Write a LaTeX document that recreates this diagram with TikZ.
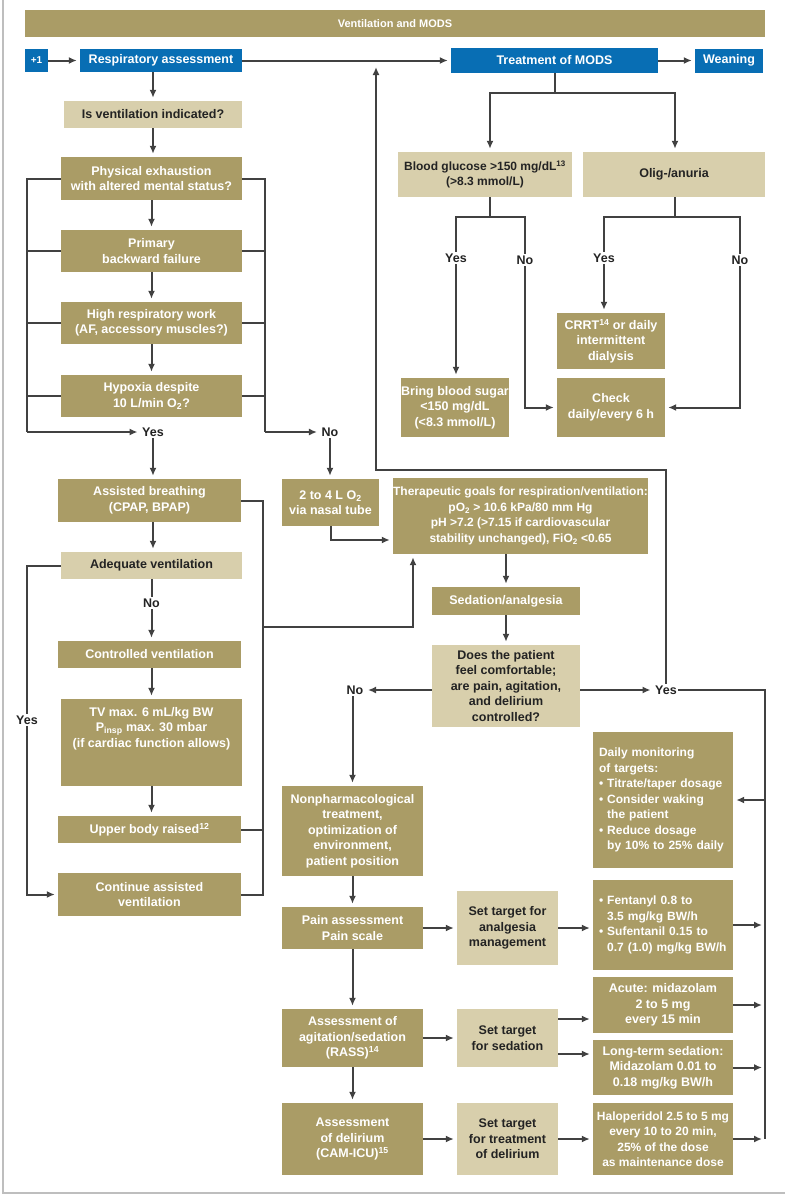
\documentclass[tikz,border=0pt]{standalone}
\usepackage{fontspec}
\setmainfont{Liberation Sans}
\usetikzlibrary{arrows.meta}
\definecolor{gold}{RGB}{170,156,102}
\definecolor{lightc}{RGB}{216,207,172}
\definecolor{bluec}{RGB}{8,110,180}
\definecolor{linec}{RGB}{65,65,65}
\definecolor{darktext}{RGB}{35,35,35}
\definecolor{framec}{RGB}{190,190,190}
\begin{document}
\begin{tikzpicture}[x=1pt,y=-1pt,
  box/.style={inner sep=0pt, align=center, font=\fontsize{12.5}{15.5}\selectfont\bfseries},
  gold/.style={box, fill=gold, text=white},
  light/.style={box, fill=lightc, text=darktext},
  bluebox/.style={box, fill=bluec, text=white},
  lbl/.style={font=\fontsize{12.5}{14}\selectfont\bfseries, text=darktext, inner sep=1.5pt, fill=white},
  conn/.style={draw=linec, line width=2pt},
  arr/.style={conn, -{Latex[length=8pt,width=7pt]}, shorten >=3pt}]
\useasboundingbox (0,0) rectangle (785,1197);
\draw[framec, line width=2pt] (3,0) -- (3,1193) -- (785,1193);

% header row
\node[gold, minimum width=740pt, minimum height=27pt, font=\fontsize{11}{13}\selectfont\bfseries] (title) at (395,23.5) {Ventilation and MODS};
\node[bluebox, minimum width=23pt, minimum height=23pt, font=\fontsize{10}{12}\selectfont\bfseries] (p1) at (36.5,60.5) {+1};
\node[bluebox, minimum width=162pt, minimum height=23pt] (resp) at (161,60.5) {Respiratory assessment};
\node[bluebox, minimum width=207pt, minimum height=25pt] (treat) at (554.5,60.5) {Treatment of MODS};
\node[bluebox, minimum width=68pt, minimum height=24pt] (wean) at (729,60.5) {Weaning};

% left column
\node[light, minimum width=178pt, minimum height=27pt] (isvent) at (153,114.5) {Is ventilation indicated?};
\node[gold, minimum width=181pt, minimum height=43pt] (phys) at (151.5,178.5) {Physical exhaustion\\with altered mental status?};
\node[gold, minimum width=181pt, minimum height=42pt] (prim) at (151.5,251) {Primary\\backward failure};
\node[gold, minimum width=181pt, minimum height=42pt] (high) at (151.5,323) {High respiratory work\\(AF, accessory muscles?)};
\node[gold, minimum width=181pt, minimum height=42pt] (hyp) at (151.5,396) {Hypoxia despite\\10 L/min O\textsubscript{2}?};
\node[lbl] (yes1) at (153,432) {Yes};
\node[lbl] (no1) at (330,432) {No};
\node[gold, minimum width=183pt, minimum height=43pt] (assist) at (149.5,500.5) {Assisted breathing\\(CPAP, BPAP)};
\node[gold, minimum width=97pt, minimum height=47pt] (o2) at (330.5,502.5) {2 to 4 L O\textsubscript{2}\\via nasal tube};
\node[light, minimum width=181pt, minimum height=27pt] (adeq) at (151.5,565.5) {Adequate ventilation};
\node[lbl] (no2) at (151.5,603) {No};
\node[lbl] (yes2) at (27,720) {Yes};
\node[gold, minimum width=183pt, minimum height=27pt] (ctrl) at (149.5,654.5) {Controlled ventilation};
\node[gold, minimum width=181pt, minimum height=87pt] (tv) at (151.5,742.5) {TV max. 6 mL/kg BW\\P\textsubscript{insp} max. 30 mbar\\(if cardiac function allows)\\\mbox{}\\\mbox{}};
\node[gold, minimum width=183pt, minimum height=27pt] (upper) at (149.5,829.5) {Upper body raised\textsuperscript{12}};
\node[gold, minimum width=183pt, minimum height=43pt] (cont) at (149.5,894.5) {Continue assisted\\ventilation};

% MODS branch
\node[light, minimum width=174pt, minimum height=45pt, font=\fontsize{12}{15.5}\selectfont\bfseries] (glu) at (485,174.5) {Blood glucose >150 mg/dL\textsuperscript{13}\\(>8.3 mmol/L)};
\node[light, minimum width=182pt, minimum height=45pt] (olig) at (674,174.5) {Olig-/anuria};
\node[lbl] (yesG) at (456,258) {Yes};
\node[lbl] (noG) at (525,260) {No};
\node[lbl] (yesO) at (604,258) {Yes};
\node[lbl] (noO) at (740,260) {No};
\node[gold, minimum width=108pt, minimum height=59pt] (bring) at (455,407.5) {Bring blood sugar\\<150 mg/dL\\(<8.3 mmol/L)};
\node[gold, minimum width=108pt, minimum height=56pt] (crrt) at (611,341) {CRRT\textsuperscript{14} or daily\\intermittent\\dialysis};
\node[gold, minimum width=108pt, minimum height=59pt] (check) at (611,407.5) {Check\\daily/every 6 h};

% center
\node[gold, minimum width=255pt, minimum height=76pt, font=\fontsize{12}{15.5}\selectfont\bfseries] (ther) at (520.5,516) {Therapeutic goals for respiration/ventilation:\\pO\textsubscript{2} > 10.6 kPa/80 mm Hg\\pH >7.2 (>7.15 if cardiovascular\\stability unchanged), FiO\textsubscript{2} <0.65};
\node[gold, minimum width=148pt, minimum height=28pt] (sed) at (506,601) {Sedation/analgesia};
\node[light, minimum width=148pt, minimum height=82pt] (does) at (506,686) {Does the patient\\feel comfortable;\\are pain, agitation,\\and delirium\\controlled?};
\node[lbl] (noD) at (355,690) {No};
\node[lbl] (yesD) at (666,690) {Yes};

\node[gold, minimum width=141pt, minimum height=90pt] (nonph) at (352.5,831) {Nonpharmacological\\treatment,\\optimization of\\environment,\\patient position};
\node[gold, minimum width=141pt, minimum height=42pt] (pain) at (352.5,928) {Pain assessment\\Pain scale};
\node[gold, minimum width=141pt, minimum height=58pt] (agit) at (352.5,1038) {Assessment of\\agitation/sedation\\(RASS)\textsuperscript{14}};
\node[gold, minimum width=141pt, minimum height=72pt] (deli) at (352.5,1139) {Assessment\\of delirium\\(CAM-ICU)\textsuperscript{15}};

\node[light, minimum width=101pt, minimum height=74pt] (stA) at (507.5,928) {Set target for\\analgesia\\management};
\node[light, minimum width=101pt, minimum height=58pt] (stS) at (507.5,1038) {Set target\\for sedation};
\node[light, minimum width=101pt, minimum height=72pt] (stD) at (507.5,1139) {Set target\\for treatment\\of delirium};

\node[gold, minimum width=140pt, minimum height=136pt, align=left, inner xsep=6pt, text width=128pt, font=\fontsize{12}{15.5}\selectfont\bfseries] (daily) at (663,800) {Daily monitoring\\of targets:\\\textbullet\ Titrate/taper dosage\\\textbullet\ Consider waking\\\phantom{\textbullet\ }the patient\\\textbullet\ Reduce dosage\\\phantom{\textbullet\ }by 10\% to 25\% daily};
\node[gold, minimum width=140pt, minimum height=90pt, align=left, inner xsep=6pt, text width=128pt, font=\fontsize{12}{15.5}\selectfont\bfseries] (fent) at (663,925) {\textbullet\ Fentanyl 0.8 to\\\phantom{\textbullet\ }3.5 mg/kg BW/h\\\textbullet\ Sufentanil 0.15 to\\\phantom{\textbullet\ }0.7 (1.0) mg/kg BW/h};
\node[gold, minimum width=140pt, minimum height=56pt] (acute) at (663,1005) {Acute: midazolam\\2 to 5 mg\\every 15 min};
\node[gold, minimum width=140pt, minimum height=55pt] (longt) at (663,1067.5) {Long-term sedation:\\Midazolam 0.01 to\\0.18 mg/kg BW/h};
\node[gold, minimum width=140pt, minimum height=72pt, font=\fontsize{12}{15.5}\selectfont\bfseries] (halo) at (663,1139) {Haloperidol 2.5 to 5 mg\\every 10 to 20 min,\\25\% of the dose\\as maintenance dose};

% coordinates
\coordinate (lb) at (27,432);
\coordinate (rb) at (265,432);
\coordinate (rb2) at (263,627);
\coordinate (t1) at (0,540);
\coordinate (t2) at (413,0);
\coordinate (tb) at (0,93);
\coordinate (ga) at (490,0);
\coordinate (oa) at (675,0);
\coordinate (gb) at (490,217);
\coordinate (ob) at (675,217);
\coordinate (loopY) at (0,470);
\coordinate (upEnd) at (376,64);
\coordinate (rl) at (765,0);
\coordinate (s1) at (0,1019);
\coordinate (s2) at (0,1054);

% header connectors
\draw[arr] (p1) -- (resp);
\draw[arr] (resp.east) -- (treat.west);
\draw[arr] (treat.east) -- (wean.west |- treat.east);
\draw[arr] (isvent.north |- resp.south) -- (isvent.north);

% left column connectors
\draw[arr] (isvent.south) -- (isvent.south |- phys.north);
\draw[arr] (phys) -- (prim);
\draw[arr] (prim) -- (high);
\draw[arr] (high) -- (hyp);
\draw[conn] (phys.west) -- (phys.west -| lb) -- (lb);
\draw[conn] (prim.west) -- (prim.west -| lb);
\draw[conn] (high.west) -- (high.west -| lb);
\draw[conn] (hyp.west) -- (hyp.west -| lb);
\draw[arr] (lb) -- (yes1.west);
\draw[conn] (phys.east) -- (phys.east -| rb) -- (rb);
\draw[conn] (prim.east) -- (prim.east -| rb);
\draw[conn] (high.east) -- (high.east -| rb);
\draw[conn] (hyp.east) -- (hyp.east -| rb);
\draw[arr] (rb) -- (no1.west);
\draw[arr] (yes1.south) -- (yes1.south |- assist.north);
\draw[arr] (no1.south) -- (no1.south |- o2.north);
\draw[arr] (o2.south) |- (ther.west |- t1);
\draw[arr] (yes1.south |- assist.south) -- (yes1.south |- adeq.north);
\draw[conn] (adeq.west) -| (yes2.north);
\draw[arr] (yes2.south) |- (cont.west);
\draw[conn] (adeq.south) -- (no2.north);
\draw[arr] (no2.south) -- (no2.south |- ctrl.north);
\draw[arr] (no2.south |- ctrl.south) -- (no2.south |- tv.north);
\draw[arr] (no2.south |- tv.south) -- (no2.south |- upper.north);
\draw[conn] (assist.east) -| (rb2 |- cont.east) -- (cont.east);
\draw[conn] (upper.east) -- (upper.east -| rb2);
\draw[arr] (rb2) -| (t2 |- ther.south);

% MODS connectors
\draw[conn] (treat.south) -- (treat.south |- tb);
\draw[arr] (treat.south |- tb) -| (ga |- glu.north);
\draw[arr] (treat.south |- tb) -| (oa |- olig.north);
\draw[conn] (ga |- glu.south) -- (gb);
\draw[conn] (gb) -| (yesG.north);
\draw[conn] (gb) -| (noG.north);
\draw[arr] (yesG.south) -- (yesG.south |- bring.north);
\draw[arr] (noG.south) |- (check.west);
\draw[conn] (oa |- olig.south) -- (ob);
\draw[conn] (ob) -| (yesO.north);
\draw[conn] (ob) -| (noO.north);
\draw[arr] (yesO.south) -- (yesO.south |- crrt.north);
\draw[arr] (noO.south) |- (check.east);

% center connectors
\draw[arr] (sed.north |- ther.south) -- (sed.north);
\draw[arr] (sed) -- (does);
\draw[arr] (does.west |- noD) -- (noD.east);
\draw[arr] (does.east |- yesD) -- (yesD.west);
\draw[arr] (yesD.north) |- (upEnd |- loopY) -- (upEnd);
\draw[conn] (yesD.east) -- (rl |- yesD.east) -- (rl |- halo.east);
\draw[arr] (rl |- daily.east) -- (daily.east);
\draw[arr] (nonph.north |- noD.south) -- (nonph.north);
\draw[arr] (nonph) -- (pain);
\draw[arr] (pain) -- (agit);
\draw[arr] (agit) -- (deli);
\draw[arr] (pain) -- (stA);
\draw[arr] (stA.east) -- (fent.west |- stA.east);
\draw[arr] (agit) -- (stS);
\draw[arr] (stS.east |- s1) -- (acute.west |- s1);
\draw[arr] (stS.east |- s2) -- (longt.west |- s2);
\draw[arr] (deli) -- (stD);
\draw[arr] (stD) -- (halo);
\draw[arr] (fent.east) -- (rl |- fent.east);
\draw[arr] (acute.east) -- (rl |- acute.east);
\draw[arr] (longt.east) -- (rl |- longt.east);
\draw[arr] (halo.east) -- (rl |- halo.east);
\end{tikzpicture}
\end{document}
